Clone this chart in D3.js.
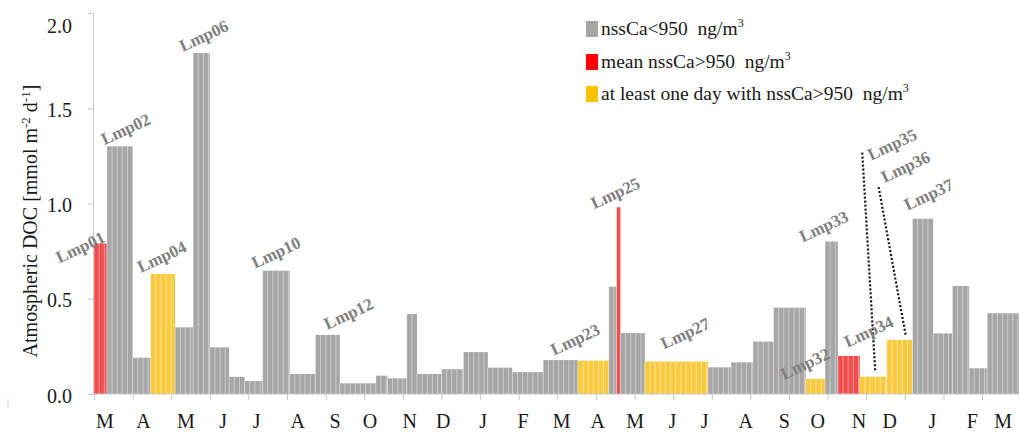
<!DOCTYPE html>
<html>
<head>
<meta charset="utf-8">
<script src="https://cdn.jsdelivr.net/npm/d3@7"></script>
<style>
  body { margin: 0; background: #fff; }
  svg { display: block; }
  text { font-family: "Liberation Serif", "Times New Roman", serif; }
</style>
</head>
<body>
<svg id="chart" width="1019" height="437"></svg>
<script>
// Sampling periods (days since the start of the campaign)
const sampleStart = [0, 10, 30, 44, 63, 77, 90, 105, 117, 131,
  152, 172, 191, 219, 228, 243, 251, 270, 287, 306,
  325, 349, 376, 400, 406, 409, 428, 477, 495, 512,
  528, 553, 568, 578, 595, 616, 636, 652, 667, 680, 694];
const campaignEnd = 719;

// Atmospheric DOC flux per sample [mmol m-2 d-1]
const docFlux = [0.79, 1.30, 0.19, 0.63, 0.35, 1.79, 0.245, 0.09, 0.068, 0.647,
  0.105, 0.31, 0.056, 0.096, 0.082, 0.42, 0.105, 0.13, 0.22, 0.138,
  0.115, 0.178, 0.175, 0.563, 0.98, 0.32, 0.17, 0.14, 0.166, 0.275,
  0.453, 0.079, 0.80, 0.20, 0.091, 0.283, 0.92, 0.318, 0.567, 0.135, 0.424];

// nssCa class per sample: low = nssCa<950, mean = mean nssCa>950, day = at least one day >950
const nssCaClass = ["mean", "low", "low", "day", "low", "low", "low", "low", "low", "low",
  "low", "low", "low", "low", "low", "low", "low", "low", "low", "low",
  "low", "low", "day", "low", "mean", "low", "day", "low", "low", "low",
  "low", "day", "low", "mean", "day", "day", "low", "low", "low", "low", "low"];

const sampleNames = sampleStart.map((d, i) => "Lmp" + String(i + 1).padStart(2, "0"));
const labelledSamples = ["Lmp01", "Lmp02", "Lmp04", "Lmp06", "Lmp10", "Lmp12", "Lmp23",
  "Lmp25", "Lmp27", "Lmp32", "Lmp33", "Lmp34", "Lmp35", "Lmp36", "Lmp37"];

// Month markers on the time axis
const monthLabels = ["M", "A", "M", "J", "J", "A", "S", "O", "N", "D", "J", "F",
  "M", "A", "M", "J", "J", "A", "S", "O", "N", "D", "J", "F", "M"];
const monthLabelDays = [8, 38, 71, 100, 126, 158, 187, 214, 245, 271, 302, 333,
  363, 391, 420, 449, 474, 506, 536, 562, 594, 618, 651, 682, 706];
const monthTickDays = d3.range(0, 691, 30);

const yTicks = [0, 0.5, 1.0, 1.5, 2.0];

const legendClasses = ["low", "mean", "day"];
const legendTexts = ["nssCa<950\u00a0 ng/m", "mean nssCa>950\u00a0 ng/m", "at least one day with nssCa>950\u00a0 ng/m"];

// ---------------------------------------------------------------------------
const serif = "'Liberation Serif', 'Times New Roman', serif";
const samples = sampleStart.map((s, i) => ({
  name: sampleNames[i],
  start: s,
  end: i + 1 < sampleStart.length ? sampleStart[i + 1] : campaignEnd,
  value: docFlux[i],
  cls: nssCaClass[i]
}));

const fillColor = { low: "#a6a6a6", mean: "#f04c4c", day: "#f8ca3e" };
const legendColor = { low: "#a6a6a6", mean: "#ff0000", day: "#ffc000" };

const svg = d3.select("#chart");
const x = d3.scaleLinear().domain([0, 690]).range([94, 982]);
const y = d3.scaleLinear().domain([0, 2]).range([394, 13]);

// bars
const bars = svg.append("g");
bars.selectAll("rect").data(samples).join("rect")
  .attr("x", d => x(d.start))
  .attr("width", d => x(d.end) - x(d.start))
  .attr("y", d => y(d.value))
  .attr("height", d => y(0) - y(d.value))
  .attr("fill", d => fillColor[d.cls]);

// light daily-column texture inside the bars
const stripes = [];
samples.forEach(d => {
  for (let t = d.start; t < d.end; t += 4) stripes.push({ t, v: d.value });
});
bars.selectAll("line").data(stripes).join("line")
  .attr("x1", d => x(d.t)).attr("x2", d => x(d.t))
  .attr("y1", d => y(d.v)).attr("y2", y(0))
  .attr("stroke", "#fff").attr("stroke-opacity", 0.55).attr("stroke-width", 0.8);

// axes
const axisColor = "#c8c8c8";
const xTicksG = svg.append("g").attr("transform", `translate(0,${y(0)})`)
  .call(d3.axisBottom(x).tickValues(monthTickDays).tickSize(6).tickFormat(""));
xTicksG.select(".domain").remove();
xTicksG.selectAll(".tick line").attr("stroke", axisColor);
svg.append("line").attr("x1", 93).attr("x2", 1019).attr("y1", y(0)).attr("y2", y(0))
  .attr("stroke", axisColor).attr("stroke-width", 1);

const xLab = svg.append("g").attr("transform", `translate(0,${y(0)})`)
  .call(d3.axisBottom(x).tickValues(monthLabelDays).tickSize(0).tickPadding(20)
    .tickFormat((d, i) => monthLabels[i]));
xLab.attr("font-family", serif);
xLab.select(".domain").remove();
xLab.selectAll("text").attr("font-size", 20).attr("fill", "#1a1a1a")
  .style("font-family", serif);

const yAxis = svg.append("g").attr("transform", "translate(93,0)")
  .call(d3.axisLeft(y).tickValues(yTicks).tickSize(5).tickPadding(16)
    .tickFormat(d3.format(".1f")));
yAxis.attr("font-family", serif);
yAxis.select(".domain").attr("stroke", axisColor);
yAxis.selectAll(".tick line").attr("stroke", axisColor);
yAxis.selectAll("text").attr("font-size", 20).attr("fill", "#1a1a1a")
  .style("font-family", serif)
  .attr("dy", d => d === 2 ? "0.95em" : "0.4em");

// y title
const yt = svg.append("text")
  .attr("transform", "translate(37,221) rotate(-90)")
  .attr("text-anchor", "middle").attr("font-size", 20).attr("fill", "#1a1a1a");
yt.append("tspan").text("Atmospheric DOC [mmol m");
yt.append("tspan").text("-2").attr("font-size", 13).attr("dy", -7);
yt.append("tspan").text(" d").attr("dy", 7);
yt.append("tspan").text("-1").attr("font-size", 13).attr("dy", -7);
yt.append("tspan").text("]").attr("dy", 7);

// sample labels (offsets from the bar's top centre)
const labelOffset = {
  Lmp01: [-20, 4], Lmp02: [6, -17], Lmp04: [-1, -17], Lmp06: [2.5, -17],
  Lmp10: [0, -18], Lmp12: [21, -21], Lmp23: [-18, -21], Lmp25: [-3, -14],
  Lmp27: [9, -28], Lmp32: [-10, -15], Lmp33: [-7.5, -15], Lmp34: [20, -24],
  Lmp35: [19, -232], Lmp36: [6, -173], Lmp37: [6, -24]
};
const leader = {
  Lmp35: [[-11, -224], [2, -5]],
  Lmp36: [[-21, -153], [6, -5]]
};
const labelled = samples.filter(d => labelledSamples.includes(d.name));
const cx = d => x((d.start + d.end) / 2);
const lg = svg.append("g");
labelled.filter(d => leader[d.name]).forEach(d => {
  const [a, b] = leader[d.name];
  lg.append("line")
    .attr("x1", cx(d) + a[0]).attr("y1", y(d.value) + a[1])
    .attr("x2", cx(d) + b[0]).attr("y2", y(d.value) + b[1])
    .attr("stroke", "#111").attr("stroke-width", 2.2)
    .attr("stroke-dasharray", "2 2");
});
lg.selectAll("text").data(labelled).join("text")
  .attr("transform", d => `translate(${cx(d) + labelOffset[d.name][0]},${y(d.value) + labelOffset[d.name][1]}) rotate(-25)`)
  .attr("text-anchor", "middle").attr("dominant-baseline", "central")
  .attr("font-size", 17).attr("font-weight", "bold").attr("fill", "#808080")
  .text(d => d.name);

// legend
const leg = svg.append("g");
const legY = [29, 62, 94];
legendClasses.forEach((c, i) => {
  leg.append("rect").attr("x", 586).attr("y", legY[i] - 8).attr("width", 12).attr("height", 16)
    .attr("fill", legendColor[c]);
  const t = leg.append("text").attr("x", 601).attr("y", legY[i] + 6)
    .attr("font-size", 19.5).attr("fill", "#1a1a1a");
  t.append("tspan").text(legendTexts[i]);
  t.append("tspan").text("3").attr("font-size", 12).attr("dy", -8);
});

// small mark near the lower left corner
svg.append("line").attr("x1", 8).attr("x2", 8).attr("y1", 399).attr("y2", 407)
  .attr("stroke", "#cfcfcf").attr("stroke-width", 1);
</script>
</body>
</html>
